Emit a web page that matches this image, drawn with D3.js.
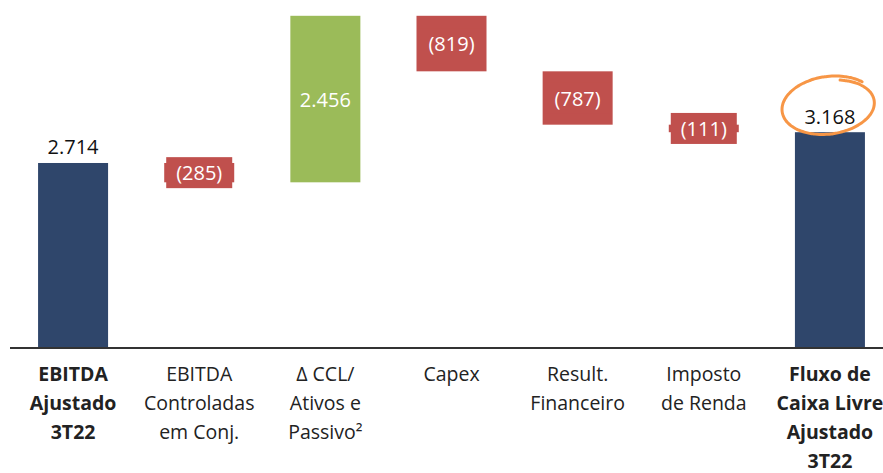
<!DOCTYPE html>
<html>
<head>
<meta charset="utf-8">
<script src="https://cdn.jsdelivr.net/npm/d3@7"></script>
<style>
  body { margin: 0; background: #fff; }
  svg { font-family: "Open Sans", Lato, sans-serif; }
</style>
</head>
<body>
<div id="chart"></div>
<script>
// waterfall data
var categories = ["EBITDA Ajustado 3T22", "EBITDA Controladas em Conj.", "Δ CCL/ Ativos e Passivo²", "Capex", "Result. Financeiro", "Imposto de Renda", "Fluxo de Caixa Livre Ajustado 3T22"];
var labelLines = [
  ["EBITDA", "Ajustado", "3T22"],
  ["EBITDA", "Controladas", "em Conj."],
  ["Δ CCL/", "Ativos e", "Passivo²"],
  ["Capex"],
  ["Result.", "Financeiro"],
  ["Imposto", "de Renda"],
  ["Fluxo de", "Caixa Livre", "Ajustado", "3T22"]
];
var values = [2714, -285, 2456, -819, -787, -111, 3168];
var kinds = ["total", "delta", "delta", "delta", "delta", "delta", "total"];
var boldCats = [true, false, false, false, false, false, true];

var width = 883, height = 473;
var svg = d3.select("#chart").append("svg").attr("width", width).attr("height", height);

var x = d3.scaleBand().domain(categories).range([10, 893]).paddingInner(0.445).paddingOuter(0.2225);
var y = d3.scaleLinear().domain([0, 5000]).range([347, 8]);

var locale = d3.formatLocale({decimal: ",", thousands: ".", grouping: [3], currency: ["R$", ""]});
var fmt = locale.format(",d");
function label(v) { return v < 0 ? "(" + fmt(-v) + ")" : fmt(v); }

// running totals
var run = 0;
var rows = categories.map(function(c, i) {
  var v = values[i], y0, y1;
  if (kinds[i] == "total") { y0 = 0; y1 = v; run = v; }
  else { y0 = run; y1 = run + v; run = y1; }
  return {cat: c, v: v, kind: kinds[i], lo: Math.min(y0, y1), hi: Math.max(y0, y1)};
});

function colorOf(d) {
  if (d.kind == "total") return "#2f466b";
  return d.v < 0 ? "#c0504d" : "#9bbb59";
}

svg.selectAll("rect.bar").data(rows).enter().append("rect")
  .attr("class", "bar")
  .attr("x", function(d) { return x(d.cat); })
  .attr("width", x.bandwidth())
  .attr("y", function(d) { return y(d.hi); })
  .attr("height", function(d) { return y(d.lo) - y(d.hi); })
  .attr("fill", colorOf);

// label boxes for red bars (cover the thin ones)
var neg = rows.filter(function(d) { return d.kind == "delta" && d.v < 0; });
svg.selectAll("rect.lbox").data(neg).enter().append("rect")
  .attr("class", "lbox")
  .attr("x", function(d) { return x(d.cat) + 2; })
  .attr("width", x.bandwidth() - 4)
  .attr("y", function(d) { return (y(d.hi) + y(d.lo)) / 2 - 15.5; })
  .attr("height", 31)
  .attr("fill", "#c0504d");

// value labels
svg.selectAll("text.val").data(rows).enter().append("text")
  .attr("class", "val")
  .attr("x", function(d) { return x(d.cat) + x.bandwidth() / 2; })
  .attr("y", function(d) { return d.kind == "total" ? y(d.hi) - 16 : (y(d.hi) + y(d.lo)) / 2; })
  .attr("text-anchor", "middle")
  .attr("dominant-baseline", "central")
  .style("font-size", "20px")
  .attr("fill", function(d) { return d.kind == "total" ? "#111" : "#fff"; })
  .text(function(d) { return label(d.v); });

// baseline
svg.append("line").attr("x1", 10).attr("x2", width).attr("y1", y(0) + 1).attr("y2", y(0) + 1)
  .attr("stroke", "#333").attr("stroke-width", 2);

// category labels
categories.forEach(function(c, i) {
  var t = svg.append("text")
    .attr("x", x(c) + x.bandwidth() / 2)
    .attr("y", 381)
    .attr("text-anchor", "middle")
    .style("font-size", "19.5px")
    .style("font-weight", boldCats[i] ? "bold" : "normal")
    .attr("fill", "#222");
  labelLines[i].forEach(function(l, j) {
    t.append("tspan").attr("x", x(c) + x.bandwidth() / 2).attr("dy", j == 0 ? 0 : 29).text(l);
  });
});

// hand drawn orange circle round the final value
var last = rows[rows.length - 1];
var cx = x(last.cat) + x.bandwidth() / 2 - 1, cy = y(last.hi) - 26;
var pts = [];
for (var t = -1.25; t <= -1.25 + 2 * Math.PI + 0.55; t += 0.05) {
  var k = (t + 1.25) / (2 * Math.PI);
  var rx = 45 + 3 * k, ry = 26 + 4 * k;
  var px = rx * Math.cos(t), py = ry * Math.sin(t);
  var a = -0.12;
  pts.push([cx + px * Math.cos(a) - py * Math.sin(a), cy + px * Math.sin(a) + py * Math.cos(a)]);
}
svg.append("path").attr("d", d3.line().curve(d3.curveBasis)(pts))
  .attr("fill", "none").attr("stroke", "#f79646").attr("stroke-width", 3).attr("stroke-linecap", "round");
</script>
</body>
</html>
